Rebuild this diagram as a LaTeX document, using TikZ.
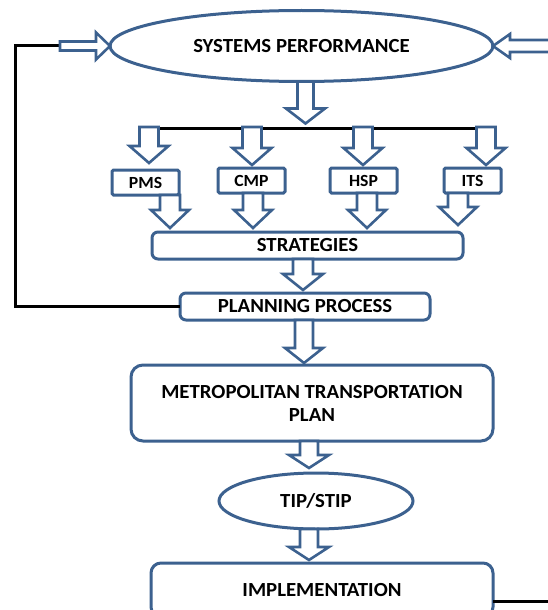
\documentclass[tikz,border=0pt]{standalone}
\usepackage{fontspec}
\setmainfont{Carlito}[FakeStretch=1.04]
\usetikzlibrary{shapes.geometric,calc}
\definecolor{boxblue}{RGB}{60,97,143}
\tikzset{
  blk/.style={draw=boxblue,line width=2.6pt,fill=white,line join=miter},
  fb/.style={draw=black,line width=3pt},
  oval/.style={ellipse,draw=boxblue,line width=3pt,fill=white,inner sep=0pt,outer sep=0pt,font=\bfseries\fontsize{20}{22}\selectfont},
  roundbox/.style={rectangle,rounded corners=6pt,draw=boxblue,line width=3pt,fill=white,inner sep=0pt,outer sep=0pt,font=\bfseries\fontsize{20}{23}\selectfont},
  smallbox/.style={rectangle,rounded corners=1.5pt,draw=boxblue,line width=3pt,fill=white,inner sep=0pt,outer sep=0pt,minimum width=67pt,minimum height=25pt,font=\bfseries\fontsize{17}{18}\selectfont},
}
% block arrow: tail, tip, shaft half width, head half width, head length
\newcommand{\blkarrow}[5]{%
  \path (#1) coordinate (bs) (#2) coordinate (bt);
  \path ($(bt)!#5!(bs)$) coordinate (bh);
  \draw[blk] ($(bs)!#3!90:(bt)$) -- ($(bh)!#3!90:(bt)$) -- ($(bh)!#4!90:(bt)$) -- (bt)
    -- ($(bh)!#4!-90:(bt)$) -- ($(bh)!#3!-90:(bt)$) -- ($(bs)!#3!-90:(bt)$) -- cycle;}
\begin{document}
\begin{tikzpicture}[x=1pt,y=-1pt]
  \useasboundingbox (0,0) rectangle (548,610);
  \clip (0,0) rectangle (548,610);

  %nodes
  \node[oval,minimum width=383pt,minimum height=71pt] (perf) at (301.5,46) {SYSTEMS PERFORMANCE};
  \node[smallbox] (pms) at (145.5,182.5) {PMS};
  \node[smallbox] (cmp) at (251.5,180.5) {CMP};
  \node[smallbox] (hsp) at (363.5,180.5) {HSP};
  \node[smallbox,minimum width=57pt] (its) at (472.5,180.5) {ITS};
  \node[roundbox,minimum width=311pt,minimum height=27pt] (strat) at (307.5,245.5) {STRATEGIES};
  \node[roundbox,minimum width=250pt,minimum height=27pt] (plan) at (305,306.5) {PLANNING PROCESS};
  \node[roundbox,rounded corners=12pt,minimum width=362pt,minimum height=76pt,align=center] (mtp) at (312,403) {METROPOLITAN TRANSPORTATION\\PLAN};
  \node[oval,minimum width=194pt,minimum height=56pt] (tip) at (316,501) {TIP/STIP};
  \node[roundbox,rounded corners=10pt,minimum width=342pt,minimum height=54pt] (impl) at (322,590) {IMPLEMENTATION};

  %feedback lines
  \coordinate (fbl) at (60,46);
  \draw[fb] (plan.west) -- (15,306.5) |- (fbl);
  \draw[fb] ($(impl.east)+(0,11)$) -- (560,601);
  \coordinate (busL) at (149,128);
  \coordinate (busR) at (486,128);
  \draw[fb] (busL) -- (busR);

  %arrows into systems performance
  \blkarrow{fbl}{perf.west}{4.5pt}{13.5pt}{14pt}
  \blkarrow{560,46}{perf.east}{6pt}{12pt}{17pt}
  \blkarrow{$(perf.south)+(4,0)$}{$(perf.south)+(4,42)$}{8pt}{19.5pt}{15pt}

  %arrows from the bus to the programs
  \blkarrow{149,127}{$(pms.north)+(3.5,-7)$}{9.5pt}{19.5pt}{17pt}
  \blkarrow{252,127}{$(cmp.north)+(0.5,-3)$}{9.5pt}{19.5pt}{17pt}
  \blkarrow{363,127}{$(hsp.north)+(-0.5,-3)$}{9.5pt}{19.5pt}{17pt}
  \blkarrow{486,127}{$(its.north)+(13.5,-3)$}{9.5pt}{19.5pt}{17pt}

  %arrows from the programs to strategies
  \blkarrow{$(pms.south)+(24.5,0)$}{$(strat.north)+(-137.5,-4)$}{10pt}{19pt}{18pt}
  \blkarrow{$(cmp.south)+(1.5,0)$}{$(strat.north)+(-54.5,-4)$}{10pt}{19pt}{18pt}
  \blkarrow{$(hsp.south)+(3.5,0)$}{$(strat.north)+(59.5,-4)$}{10pt}{19pt}{18pt}
  \blkarrow{$(its.south)+(-14.5,0)$}{$(strat.north)+(150.5,-7)$}{10pt}{19pt}{18pt}

  %main chain
  \blkarrow{$(strat.south)+(-4.5,0)$}{$(plan.north)+(-2,-3)$}{10pt}{20pt}{16pt}
  \blkarrow{$(plan.south)+(-1,0)$}{$(mtp.north)+(-8,-2)$}{9pt}{19pt}{15pt}
  \blkarrow{$(mtp.south)+(-3,0)$}{$(tip.north)+(-7,-5)$}{9pt}{20pt}{13pt}
  \blkarrow{$(tip.south)+(-7,0)$}{$(impl.north)+(-13,-3)$}{9pt}{20pt}{13pt}
\end{tikzpicture}
\end{document}
